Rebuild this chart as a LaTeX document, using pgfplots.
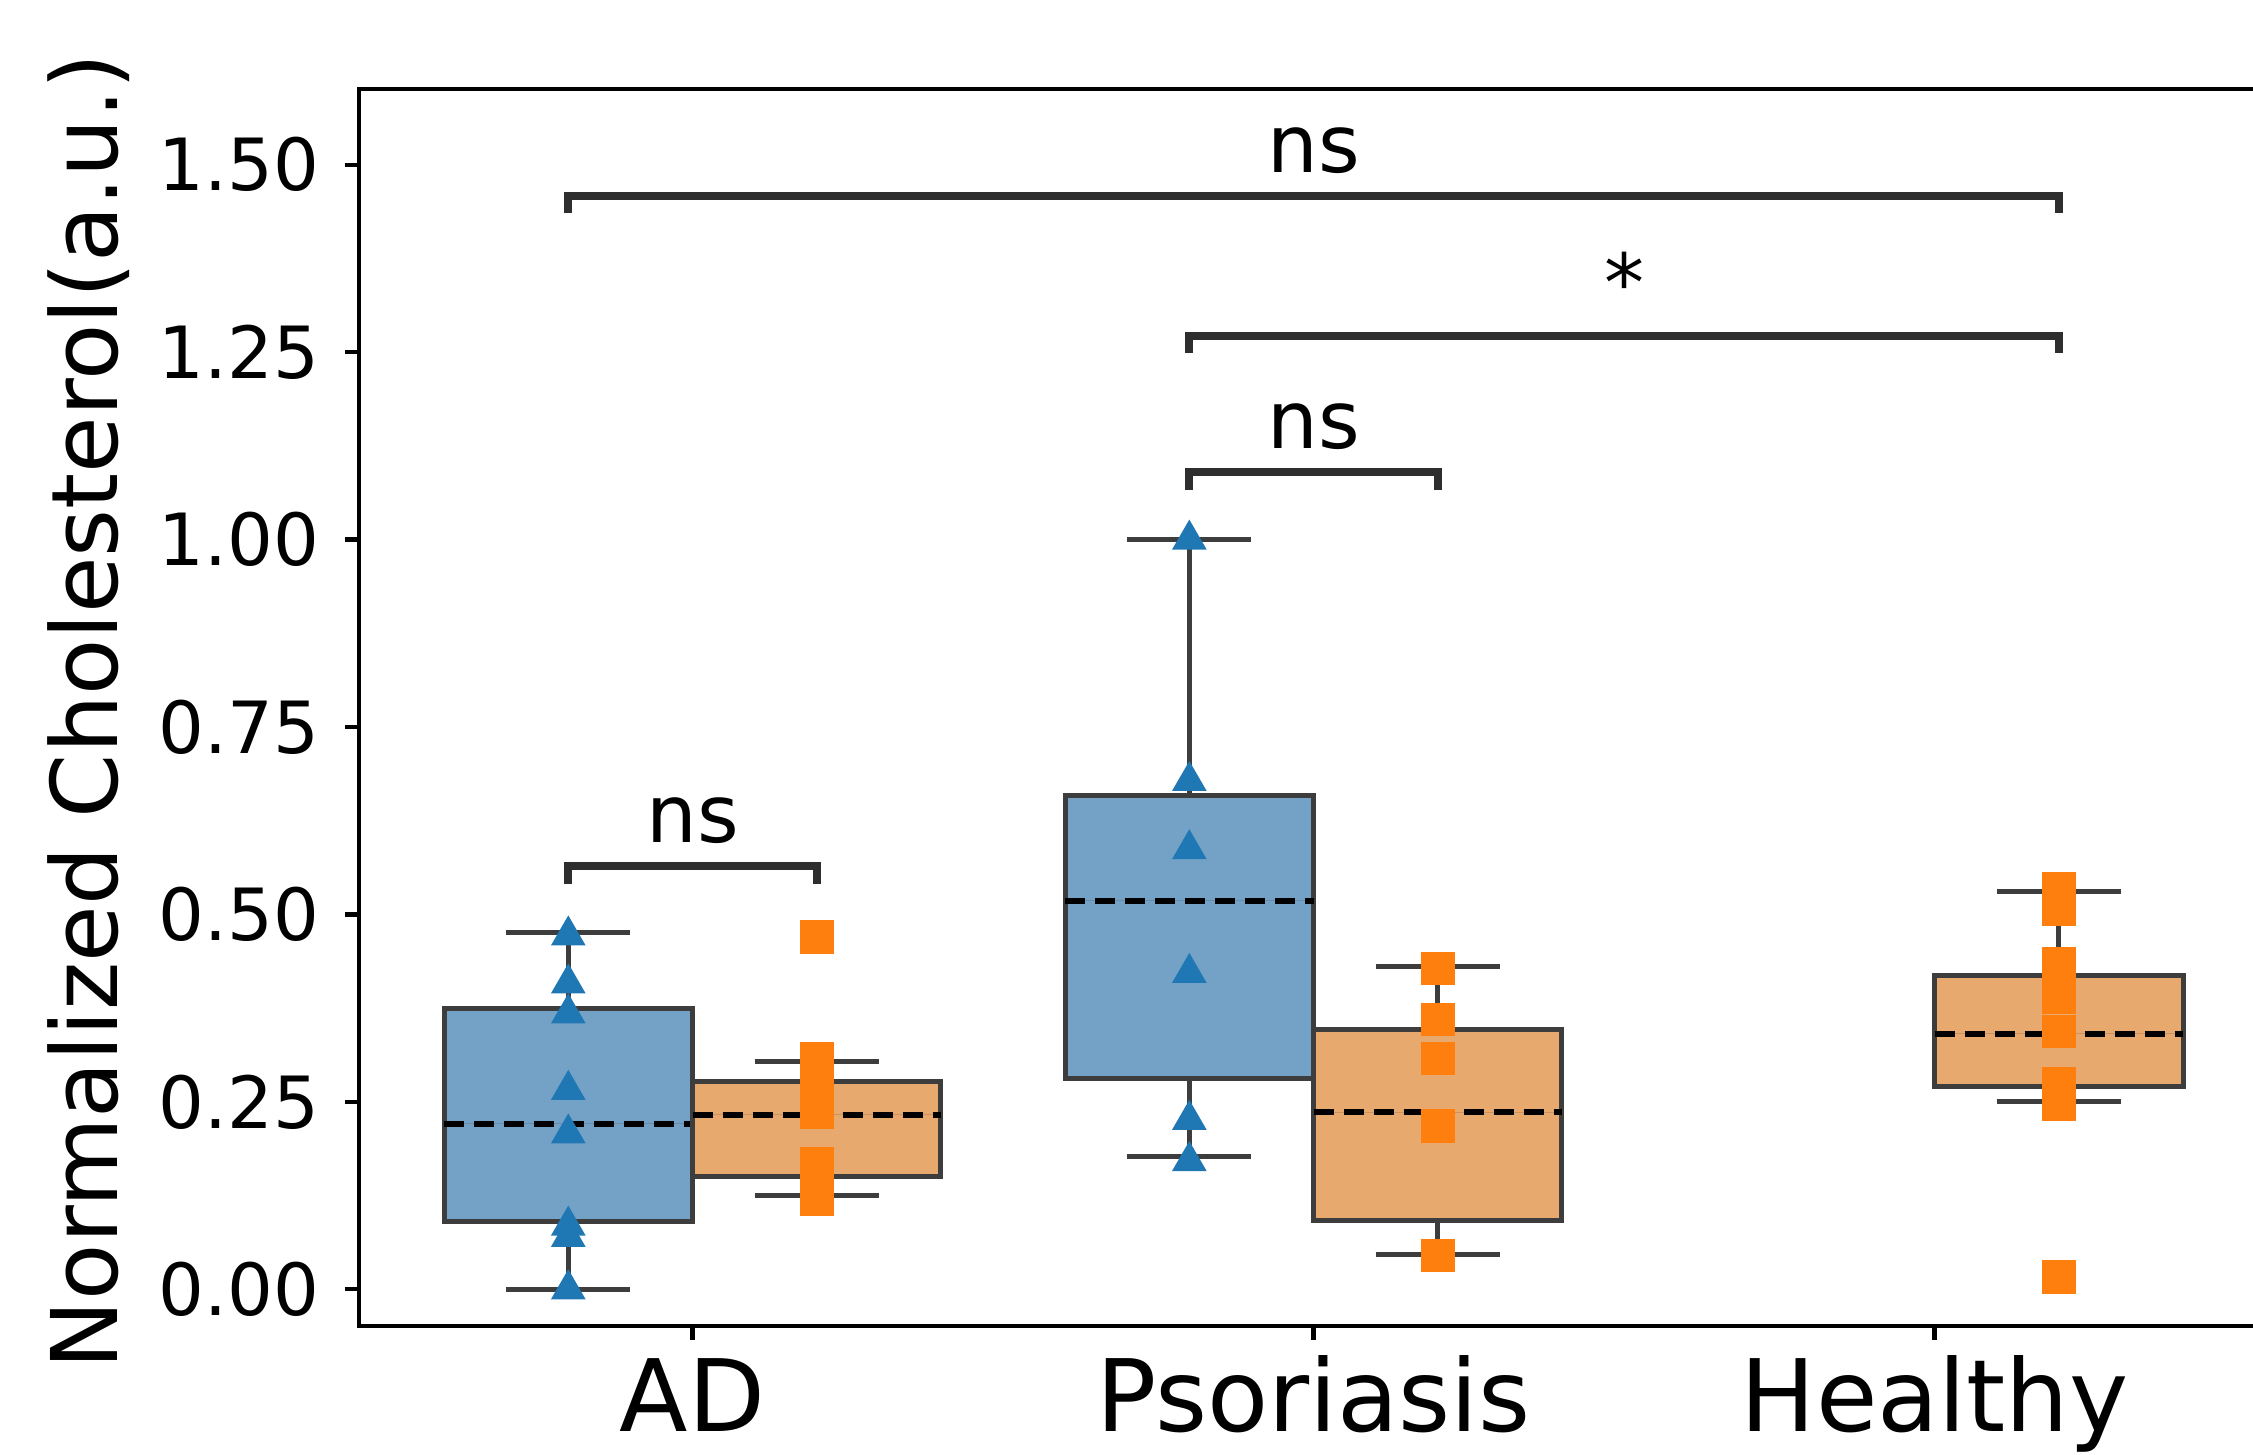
\documentclass[border=0pt]{standalone}
\usepackage{fontspec}
\setmainfont{DejaVu Sans}
\usepackage{pgfplots}
\pgfplotsset{compat=1.18}
\usepgfplotslibrary{statistics}
\definecolor{bluefill}{HTML}{74A2C7}
\definecolor{orangefill}{HTML}{E8A96F}
\definecolor{tabblue}{HTML}{1F77B4}
\definecolor{taborange}{HTML}{FF7F0E}
\definecolor{edge}{HTML}{3D3D3D}
\definecolor{brk}{HTML}{2E2E2E}

\pgfplotsset{
  mybox/.style={
    solid, draw=edge, line width=1.25pt,
    boxplot/draw direction=y,
    boxplot/box extend=0.4,
    boxplot/whisker extend=0.2,
    boxplot/every median/.style={black, line width=1.5pt, dash pattern=on 5pt off 2.5pt},
    boxplot/every whisker/.style={edge, line width=1.25pt},
  },
  bluepts/.style={only marks, mark=triangle*, mark size=4.6pt, color=tabblue, mark options={draw=tabblue, fill=tabblue}},
  orangepts/.style={only marks, mark=square*, mark size=4pt, color=taborange, mark options={draw=taborange, fill=taborange}},
  bracket/.style={brk, line width=2pt, no marks, sharp plot},
}

\begin{document}
\begin{tikzpicture}
\begin{axis}[
  scale only axis,
  width=476.5pt, height=309.25pt,
  xmin=-0.537, xmax=2.532,
  ymin=-0.049, ymax=1.601,
  axis line style={black, line width=1.2pt},
  tick align=outside,
  major tick length=3.5pt,
  tick style={black, line width=1.1pt},
  xtick pos=bottom, ytick pos=left,
  xtick={0,1,2},
  xticklabels={AD,Psoriasis,Healthy},
  ytick={0,0.25,0.5,0.75,1,1.25,1.5},
  yticklabel style={font=\fontsize{18}{21}\selectfont, xshift=-3pt, /pgf/number format/fixed, /pgf/number format/fixed zerofill, /pgf/number format/precision=2, /pgf/number format/assume math mode=true},
  xticklabel style={font=\fontsize{25}{30}\selectfont, text height=19pt, text depth=5pt, yshift=-0.3pt},
  clip=false,
]
% boxes
\addplot[mybox, fill=bluefill, boxplot prepared={draw position=-0.2, lower whisker=0.0, lower quartile=0.091, median=0.221, upper quartile=0.375, upper whisker=0.476}] coordinates {};
\addplot[mybox, fill=orangefill, boxplot prepared={draw position=0.2, lower whisker=0.125, lower quartile=0.150, median=0.233, upper quartile=0.277, upper whisker=0.304}] coordinates {};
\addplot[mybox, fill=bluefill, boxplot prepared={draw position=0.8, lower whisker=0.177, lower quartile=0.281, median=0.518, upper quartile=0.658, upper whisker=1.0}] coordinates {};
\addplot[mybox, fill=orangefill, boxplot prepared={draw position=1.2, lower whisker=0.047, lower quartile=0.092, median=0.236, upper quartile=0.347, upper whisker=0.430}] coordinates {};
\addplot[mybox, fill=orangefill, boxplot prepared={draw position=2.2, lower whisker=0.251, lower quartile=0.270, median=0.341, upper quartile=0.418, upper whisker=0.531}] coordinates {};
% points
\addplot[bluepts] coordinates {(-0.2,0.472) (-0.2,0.408) (-0.2,0.368) (-0.2,0.266) (-0.2,0.208) (-0.2,0.085) (-0.2,0.070) (-0.2,0.0)};
\addplot[orangepts] coordinates {(0.2,0.470) (0.2,0.307) (0.2,0.283) (0.2,0.258) (0.2,0.236) (0.2,0.167) (0.2,0.143) (0.2,0.120)};
\addplot[bluepts] coordinates {(0.8,1.0) (0.8,0.678) (0.8,0.587) (0.8,0.422) (0.8,0.226) (0.8,0.171)};
\addplot[orangepts] coordinates {(1.2,0.428) (1.2,0.360) (1.2,0.308) (1.2,0.218) (1.2,0.045)};
\addplot[orangepts] coordinates {(2.2,0.534) (2.2,0.507) (2.2,0.434) (2.2,0.390) (2.2,0.344) (2.2,0.274) (2.2,0.247) (2.2,0.016)};
% significance brackets
\addplot[bracket] coordinates {(-0.2,1.435) (-0.2,1.458) (2.2,1.458) (2.2,1.435)};
\addplot[bracket] coordinates {(0.8,1.249) (0.8,1.272) (2.2,1.272) (2.2,1.249)};
\addplot[bracket] coordinates {(0.8,1.066) (0.8,1.090) (1.2,1.090) (1.2,1.066)};
\addplot[bracket] coordinates {(-0.2,0.540) (-0.2,0.564) (0.2,0.564) (0.2,0.540)};
\node[anchor=base, font=\fontsize{20}{24}\selectfont, inner sep=0pt] at (axis cs:1.0,1.458) [yshift=6pt] {ns};
\node[anchor=base, font=\fontsize{20}{24}\selectfont, inner sep=0pt] at (axis cs:1.5,1.272) [yshift=6pt] {*};
\node[anchor=base, font=\fontsize{20}{24}\selectfont, inner sep=0pt] at (axis cs:1.0,1.090) [yshift=6pt] {ns};
\node[anchor=base, font=\fontsize{20}{24}\selectfont, inner sep=0pt] at (axis cs:0.0,0.564) [yshift=6pt] {ns};
\coordinate (ll) at (rel axis cs:0,0);
\coordinate (ml) at (rel axis cs:0,0.5);
\end{axis}
\node[rotate=90, anchor=base, font=\fontsize{23}{27}\selectfont, inner sep=0pt] at ([xshift=-60.25pt,yshift=-1pt]ml) {Normalized Cholesterol(a.u.)};
\pgfresetboundingbox
\useasboundingbox ([shift={(-89.75pt,-32.25pt)}]ll) rectangle ++(563.25pt,363.75pt);
\end{tikzpicture}
\end{document}
